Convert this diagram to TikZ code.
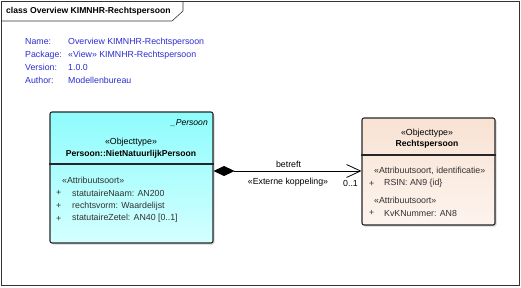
\documentclass[tikz,border=0pt]{standalone}
\usepackage{fontspec}
\setmainfont{Liberation Sans}
\usetikzlibrary{arrows.meta,positioning,shadows}
\definecolor{metablue}{HTML}{2C2CD0}
\definecolor{cyantop}{HTML}{8EFCFC}
\definecolor{cyanbot}{HTML}{D4FFFF}
\definecolor{peachtop}{HTML}{F8E2D3}
\definecolor{peachbot}{HTML}{FDF4EE}
\definecolor{attrgray}{HTML}{303030}
\tikzset{
  txt/.style={font=\fontsize{8.8}{10}\selectfont, inner sep=0pt},
  meta/.style={txt, text=metablue, anchor=west},
  attr/.style={txt, text=attrgray, anchor=west},
  clsbox/.style={draw=black!85, line width=1.1pt, rounded corners=2pt,
    drop shadow={shadow xshift=1.5pt, shadow yshift=-1.5pt, opacity=0.35}},
}

\begin{document}
\begin{tikzpicture}[x=1pt,y=-1pt]
  \useasboundingbox (0,0) rectangle (521,287);
  % frame with title tab
  \draw[black!80, line width=0.6pt] (1,1) rectangle (519,285);
  \draw[black!80, line width=0.6pt] (1,21) -- (172,21) -- (183,11) -- (183,1);
  \node[txt, font=\fontsize{8.6}{10}\selectfont\bfseries, anchor=west] (title) at (6,11) {class Overview KIMNHR-Rechtspersoon};

  % diagram properties
  \node[meta] (nameL) at (25,42) {Name:};
  \node[meta] (pkgL)  at (25,55) {Package:};
  \node[meta] (verL)  at (25,67.5) {Version:};
  \node[meta] (autL)  at (25,80) {Author:};
  \node[meta] (nameV) at (68,42) {Overview KIMNHR-Rechtspersoon};
  \node[meta] (pkgV)  at (68,55) {«View» KIMNHR-Rechtspersoon};
  \node[meta] (verV)  at (68,67.5) {1.0.0};
  \node[meta] (autV)  at (68,80) {Modellenbureau};

  % NietNatuurlijkPersoon
  \node[clsbox, top color=cyantop, bottom color=cyanbot, minimum width=163, minimum height=131] (nnp) at (131.5,177.5) {};
  \draw[black!85, line width=1.1pt] (nnp.west |- 0,164) -- (nnp.east |- 0,164);
  \node[txt, anchor=east, font=\fontsize{8.6}{10}\selectfont\itshape] (nnpAbs) at (208,123) {\_Persoon};
  \node[txt] (nnpSt) at (131,142) {«Objecttype»};
  \node[txt, font=\fontsize{8.6}{10}\selectfont\bfseries] (nnpName) at (131,154) {Persoon::NietNatuurlijkPersoon};
  \node[attr] (nnpA) at (62,180) {«Attribuutsoort»};
  \foreach \yy/\lbl in {193/statutaireNaam: AN200, 206/rechtsvorm: Waardelijst, 218.5/statutaireZetel: AN40 [0..1]} {
    \node[attr] at (56,\yy) {+};
    \node[attr] at (72,\yy) {\lbl};
  }

  % Rechtspersoon
  \node[clsbox, top color=peachtop, bottom color=peachbot, minimum width=133, minimum height=107] (rp) at (428.5,171.5) {};
  \draw[black!85, line width=1.1pt] (rp.west |- 0,155) -- (rp.east |- 0,155);
  \node[txt] (rpSt) at (427,133) {«Objecttype»};
  \node[txt, font=\fontsize{8.6}{10}\selectfont\bfseries] (rpName) at (427,144.5) {Rechtspersoon};
  \node[attr] (rpA1) at (374,171) {«Attribuutsoort, identificatie»};
  \node[attr] (rpP1) at (369,183.5) {+};
  \node[attr] (rpR1) at (384,183.5) {RSIN: AN9 \{id\}};
  \node[attr] (rpA2) at (374,200) {«Attribuutsoort»};
  \node[attr] (rpP2) at (369,213) {+};
  \node[attr] (rpR2) at (384,213) {KvKNummer: AN8};

  % association
  \draw[line width=0.8pt, {Diamond[length=21pt,width=10pt]}-{Straight Barb[length=14pt,width=13pt,line width=0.8pt]}]
    (nnp.east |- 0,171) -- (rp.west |- 0,171);
  \node[txt] (assocName) at (288.5,164) {betreft};
  \node[txt] (assocSt) at (288,182.5) {«Externe koppeling»};
  \node[txt] (assocMul) at (350.5,183.5) {0..1};
\end{tikzpicture}
\end{document}
